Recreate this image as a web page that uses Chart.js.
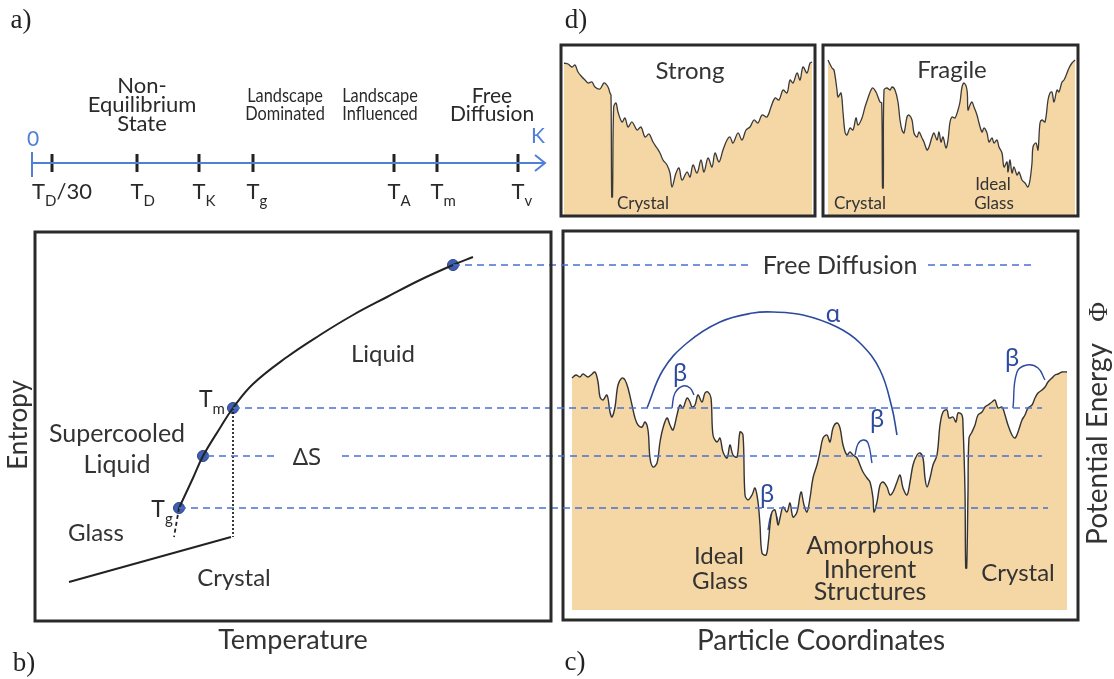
<!DOCTYPE html>
<html><head><meta charset="utf-8">
<script src="https://cdn.jsdelivr.net/npm/chart.js@4.4.1/dist/chart.umd.min.js"></script>
<style>
html,body{margin:0;padding:0;background:#fff;}
#wrap{position:relative;width:1114px;height:679px;overflow:hidden;background:#fff;}
#wrap canvas{position:absolute;left:0;top:0;}
</style></head><body><div id="wrap">
<canvas id="cA" width="1114" height="679"></canvas>
<canvas id="cS" width="1114" height="679"></canvas>
<canvas id="cF" width="1114" height="679"></canvas>
<canvas id="cC" width="1114" height="679"></canvas>
<canvas id="cB" width="1114" height="679"></canvas>
</div>
<script>
// ---------- Panel a: temperature timeline (arbitrary log-T units) ----------
const tickNames = [[['T'],['D','sub'],['/30']], [['T'],['D','sub']], [['T'],['K','sub']], [['T'],['g','sub']], [['T'],['A','sub']], [['T'],['m','sub']], [['T'],['v','sub']]];
const tickPos = [20, 105, 167, 221, 362, 405, 486];
const tickLabelPos = [30, 105, 167, 221, 362, 405, 486];
const axisEnd = 513;
const regimeText = [['Non-','Equilibrium','State'], ['Landscape','Dominated'], ['Landscape','Influenced'], ['Free','Diffusion']];
const regimePos = [110, 253, 348, 460];

// ---------- Panel b: entropy vs temperature ----------
const liquidT = [143, 157, 167, 184, 197, 217, 251, 284, 317, 351, 384, 417, 437];
const liquidS = [112, 142, 164, 192, 212, 236, 263, 285, 305, 323, 340, 355, 363];
const glassT = [143, 138];
const glassS = [112, 83];
const crystalT = [33, 195];
const crystalS = [38, 83];
const meltT = [197, 197];
const meltS = [212, 83];
const markT = [143, 167, 197, 417];
const markS = [112, 164, 212, 355];
const levelS = [355, 212, 164, 112];
const levelRanges = [[[417, 714], [892, 998]], [[197, 1006]], [[171, 239], [306, 1006]], [[143, 1012]]];

// ---------- Panel d: strong / fragile landscapes ----------
const strongX = [2,6,10,13,16,20,23,26,30,33,38,42,46,48,49,49.7,50.5,51.7,54,56,60,63,66,70,75,79,83,87,91,95,98,101,105,108,110,114,117,120,125,128,131,135,139,142,146,150,153,157,161,165,168,171,176,180,184,188,192,196,200,205,209,213,217,221,225,228,231,235,238,241,245,248,250];
const strongY = [152,151,148,150,143,138,135,132,133,128,126,132,128,122,120,18,18,108,112,103,93,97,88,93,85,88,78,81,73,67,62,55,50,42,28,42,47,35,43,38,50,42,55,43,57,48,62,53,65,75,78,72,82,75,85,88,95,92,100,98,108,117,115,125,122,135,132,142,135,148,142,152,153];
const fragileX = [4,8,10,13,14,17,19,21,23,26,29,32,34,38,41,44,47,49,52,54,56,57.7,58.5,59.3,60,63,66,68,71,74,76,78,80,83,85,88,90,93,95,98,100,103,105,108,110,113,115,117,119,122,124,126,128,131,134,136,138,140,143,144,146,148,150,153,155,158,160,163,165,168,170,173,175,178,180,183,184,186,188,190,193,195,198,201,204,206,208,209,212,214,216,218,221,224,226,228,230,233,235,238,240,243,245,248,251];
const fragileY = [155,147,145,125,118,122,103,83,80,87,85,97,90,97,108,117,125,127,123,118,113,112,27,27,125,127,125,128,125,113,95,85,82,98,100,95,82,78,83,77,73,65,68,78,82,75,83,73,78,67,75,93,98,97,105,113,128,132,125,105,110,113,108,100,92,83,87,82,73,77,72,75,68,62,48,53,43,55,42,48,40,43,35,32,28,35,52,68,72,65,92,95,93,115,122,123,113,125,123,133,135,142,147,152,155];

// ---------- Panel c: potential energy landscape ----------
const landX = [8,12,16,19,24,27,31,34,36,39,43,46,48,51,54,58,61,64,68,71,74,78,81,84,86,89,93,96,99,103,106,109,113,116,119,123,126,128,131,134,138,141,144,147,149,153,156,159,163,166,169,173,176,179,181,184,188,191,194,196,198,202,204,206,208,211,214,216,219,223,226,229,233,237,240,243,246,249,253,256,259,263,266,269,273,276,279,283,286,289,293,296,299,303,306,309,310,313,316,319,323,326,329,333,336,339,343,346,349,353,356,359,361,363,366,369,373,376,379,383,385,389,392,394,398,399,401,401.7,402.7,404,405,408,411,414,418,421,424,428,431,434,438,441,444,448,451,454,458,461,464,468,471,474,478,481,484,488,491,494,498,503];
const landY = [241,244,242,245,242,244,247,237,222,219,224,207,202,212,234,241,239,231,214,201,194,192,197,189,161,152,156,177,191,201,194,189,204,214,211,221,217,212,214,224,217,226,227,221,184,177,181,167,161,174,164,162,187,184,124,119,124,131,117,94,66,64,74,94,107,109,94,101,112,107,116,102,107,127,114,107,121,141,154,167,181,184,177,191,196,191,174,164,167,164,161,154,147,141,137,121,107,117,134,137,132,124,127,137,144,131,124,137,154,164,166,161,141,132,141,154,164,194,207,209,201,202,197,206,204,194,127,51,51,127,181,187,194,204,207,212,214,217,219,211,212,204,194,184,181,187,199,204,211,214,221,226,229,232,237,241,244,245,247,247];
const alphaX = [83, 99, 123, 156, 189, 209, 239, 273, 296, 316, 328, 333];
const alphaY = [211, 249, 276, 297, 306, 307, 304, 292, 276, 249, 211, 184];
const betaArcs = [
  {x: [108, 111, 119, 126, 130], y: [211, 226, 233, 231, 224]},
  {x: [204, 207, 210, 213, 214], y: [89, 104, 107, 101, 92]},
  {x: [291, 294, 299, 304, 308], y: [164, 175, 179, 176, 156]},
  {x: [449, 453, 463, 474, 481], y: [211, 247, 254, 251, 239]}
];
const betaLabelX = [116, 203, 313, 448];
const betaLabelY = [247, 126, 201, 262];
const braceX = [236, 238, 242, 298, 303, 306, 309, 314, 370, 374, 377];
const braceY = [111, 106, 103, 103, 100, 92, 100, 103, 103, 106, 110];

// ---------------- helpers ----------------
const SANS = 'Lato, "Open Sans", "DejaVu Sans", sans-serif';
const GREEK = '"Noto Sans", "DejaVu Sans", sans-serif';
const SERIF = '"Liberation Serif", "DejaVu Serif", serif';
const TAN = '#F5D6A5';
const DASHBLUE = '#4A72D2';
const ARCBLUE = '#2D4B9E';
const INK = '#333333';

const pts = (xs, ys) => xs.map((x, i) => ({x, y: ys[i]}));

function drawRich(ctx, item, px, py) {
  const size = item.size || 20, fam = item.family || SANS;
  const parts = item.parts || [[item.text]];
  ctx.save();
  ctx.translate(px, py);
  if (item.rot) ctx.rotate(item.rot * Math.PI / 180);
  if (item.sx) ctx.scale(item.sx, 1);
  ctx.fillStyle = item.color || INK;
  ctx.textBaseline = 'alphabetic';
  const fontOf = p => (p[1] === 'sub' ? Math.round(size * 0.66) : size) + 'px ' + fam;
  const ws = parts.map(p => { ctx.font = fontOf(p); return ctx.measureText(p[0]).width; });
  const total = ws.reduce((a, b) => a + b, 0);
  let x0 = item.align === 'left' ? 0 : item.align === 'first' ? -ws[0] / 2 : -total / 2;
  const base = size * 0.36;
  parts.forEach((p, i) => {
    ctx.font = fontOf(p);
    ctx.fillText(p[0], x0, base + (p[1] === 'sub' ? size * 0.3 : 0));
    x0 += ws[i];
  });
  ctx.restore();
}

const annotPlugin = {
  id: 'annot',
  afterDatasetsDraw(chart, args, opts) {
    const ctx = chart.ctx, xs = chart.scales.x, ys = chart.scales.y, a = chart.chartArea;
    if (opts.frame) {
      ctx.save();
      ctx.strokeStyle = '#2a2a2a';
      ctx.lineWidth = 3;
      ctx.strokeRect(a.left - 1, a.top - 1, a.right - a.left + 2, a.bottom - a.top + 2);
      ctx.restore();
    }
    (opts.items || []).forEach(it => drawRich(ctx, it, xs.getPixelForValue(it.x), ys.getPixelForValue(it.y)));
  }
};

function makeChart(id, box, xr, yr, datasets, annot) {
  return new Chart(document.getElementById(id), {
    type: 'scatter',
    data: {datasets},
    options: {
      responsive: false, animation: false, events: [],
      layout: {padding: {left: box[0], top: box[1], right: 1114 - box[2], bottom: 679 - box[3]}},
      plugins: {legend: {display: false}, tooltip: {enabled: false}, annot: annot},
      scales: {
        x: {type: 'linear', display: false, min: xr[0], max: xr[1]},
        y: {type: 'linear', display: false, min: yr[0], max: yr[1]}
      }
    },
    plugins: [annotPlugin]
  });
}

function lineDS(data, color, width, extra) {
  return Object.assign({data, showLine: true, borderColor: color, borderWidth: width, pointRadius: 0, fill: false, tension: 0, clip: false}, extra || {});
}

// ---------------- Panel a ----------------
(function () {
  const ds = [];
  ds.push(lineDS([{x: 0, y: 47}, {x: axisEnd, y: 47}], '#4F7FD6', 2));
  ds.push(lineDS([{x: axisEnd - 10, y: 55}, {x: axisEnd, y: 47}, {x: axisEnd - 10, y: 39}], '#4F7FD6', 2));
  ds.push(lineDS([{x: 0, y: 58}, {x: 0, y: 33}], '#4F7FD6', 2));
  const tk = [];
  tickPos.forEach(p => { tk.push({x: p, y: 56}, {x: p, y: 38}, {x: p, y: null}); });
  ds.push(lineDS(tk, '#222', 3, {spanGaps: false}));
  const items = [];
  tickLabelPos.forEach((p, i) => items.push({x: p, y: 19, parts: tickNames[i], size: 22, align: i === 0 ? 'center' : 'first', color: '#2a2a2a'}));
  regimeText[0].forEach((t, j) => items.push({x: regimePos[0], y: 125 - j * 19, text: t, size: 22, color: '#2a2a2a'}));
  [1, 2].forEach(i => regimeText[i].forEach((t, j) => items.push({x: regimePos[i], y: 115 - j * 18, text: t, size: 19, sx: 0.86, color: '#2a2a2a'})));
  regimeText[3].forEach((t, j) => items.push({x: regimePos[3], y: 115 - j * 18, text: t, size: 21, color: '#2a2a2a'}));
  items.push({x: 1, y: 72, text: '0', size: 21, color: '#4F7FD6'});
  items.push({x: 506, y: 75, text: 'K', size: 21, color: '#4F7FD6'});
  items.push({x: -11, y: 192, text: 'a)', size: 27, family: SERIF, color: '#222'});
  makeChart('cA', [32, 60, 545, 210], [0, 513], [0, 150], ds, {items});
})();

// ---------------- Panel d ----------------
makeChart('cS', [562, 46, 814, 215], [0, 252], [0, 169],
  [lineDS(pts(strongX, strongY), '#3a3a3a', 1.3, {fill: 'start', backgroundColor: TAN, tension: 0.35, clip: 0})],
  {frame: true, items: [
    {x: 128, y: 145, text: 'Strong', size: 24},
    {x: 81, y: 12, text: 'Crystal', size: 17},
    {x: 14, y: 197, text: 'd)', size: 27, family: SERIF, color: '#222'}
  ]});
makeChart('cF', [824, 46, 1077, 215], [0, 253], [0, 169],
  [lineDS(pts(fragileX, fragileY), '#3a3a3a', 1.3, {fill: 'start', backgroundColor: TAN, tension: 0.35, clip: 0})],
  {frame: true, items: [
    {x: 128, y: 146, text: 'Fragile', size: 24},
    {x: 36, y: 12, text: 'Crystal', size: 17},
    {x: 169, y: 31, text: 'Ideal', size: 17},
    {x: 170, y: 12, text: 'Glass', size: 17}
  ]});

// ---------------- Panel c ----------------
(function () {
  const ds = [];
  ds.push(lineDS(pts(landX, landY), '#333', 1.4, {fill: {value: 9}, backgroundColor: TAN, tension: 0.35, clip: 0}));
  ds.push(lineDS(pts(alphaX, alphaY), ARCBLUE, 1.6, {tension: 0.4}));
  betaArcs.forEach(b => ds.push(lineDS(pts(b.x, b.y), ARCBLUE, 1.4, {tension: 0.45})));
  ds.push(lineDS(pts(braceX, braceY), '#333', 1.6, {tension: 0.3}));
  const items = [
    {x: 276, y: 354, text: 'Free Diffusion', size: 25},
    {x: 269, y: 306, text: 'α', size: 24, family: GREEK, color: ARCBLUE},
    {x: 155, y: 64, text: 'Ideal', size: 24},
    {x: 156, y: 39, text: 'Glass', size: 24},
    {x: 306, y: 74, text: 'Amorphous', size: 25},
    {x: 306, y: 50, text: 'Inherent', size: 25},
    {x: 306, y: 28, text: 'Structures', size: 25},
    {x: 454, y: 47, text: 'Crystal', size: 24},
    {x: 533, y: 175, text: 'Potential Energy', size: 28, rot: -90},
    {x: 533, y: 307, text: 'Φ', size: 27, family: SERIF, rot: -90},
    {x: 257, y: -21, text: 'Particle Coordinates', size: 28},
    {x: 11, y: -41, text: 'c)', size: 27, family: SERIF, color: '#222'}
  ];
  betaLabelX.forEach((x, i) => items.push({x, y: betaLabelY[i], text: 'β', size: 24, family: GREEK, color: ARCBLUE}));
  makeChart('cC', [564, 232, 1077, 619], [0, 513], [0, 387], ds, {frame: true, items});
})();

// ---------------- Panel b ----------------
(function () {
  const ds = [];
  levelS.forEach((s, i) => levelRanges[i].forEach(r =>
    ds.push(lineDS([{x: r[0], y: s}, {x: r[1], y: s}], DASHBLUE, 1.5, {borderDash: [7, 5]}))));
  ds.push(lineDS(pts(liquidT, liquidS), '#222', 2, {tension: 0.4}));
  ds.push(lineDS(pts(glassT, glassS), '#222', 1.8, {borderDash: [4, 3]}));
  ds.push(lineDS(pts(crystalT, crystalS), '#222', 2));
  ds.push(lineDS(pts(meltT, meltS), '#222', 1.8, {borderDash: [2, 2]}));
  ds.push({data: pts(markT, markS), showLine: false, pointRadius: 5.5, pointBackgroundColor: '#3E5FB0', pointBorderColor: '#2B4388', pointBorderWidth: 1, clip: false});
  const items = [
    {x: 347, y: 267, text: 'Liquid', size: 24},
    {x: 176, y: 221, parts: [['T'], ['m', 'sub']], size: 23, color: '#2a2a2a'},
    {x: 81, y: 187, text: 'Supercooled', size: 25},
    {x: 81, y: 156, text: 'Liquid', size: 25},
    {x: 271, y: 164, text: 'ΔS', size: 24, family: GREEK},
    {x: 126, y: 111, parts: [['T'], ['g', 'sub']], size: 23, color: '#2a2a2a'},
    {x: 60, y: 88, text: 'Glass', size: 24},
    {x: 198, y: 43, text: 'Crystal', size: 24},
    {x: -18, y: 195, text: 'Entropy', size: 26, rot: -90},
    {x: 257, y: -19, text: 'Temperature', size: 27},
    {x: -12, y: -41, text: 'b)', size: 27, family: SERIF, color: '#222'}
  ];
  makeChart('cB', [36, 233, 550, 620], [0, 514], [0, 387], ds, {frame: true, items});
})();
</script>
</body></html>
